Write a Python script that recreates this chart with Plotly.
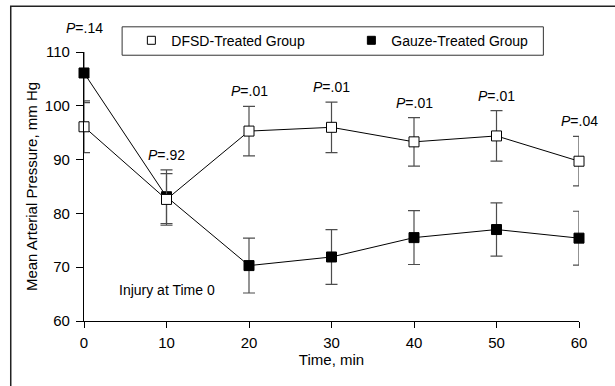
import plotly.graph_objects as go

time_min = [0, 10, 20, 30, 40, 50, 60]
dfsd_mean = [96.1, 82.6, 95.3, 96.0, 93.3, 94.4, 89.7]
dfsd_sd = [4.8, 4.8, 4.6, 4.7, 4.5, 4.7, 4.6]
gauze_mean = [106.1, 83.1, 70.3, 71.9, 75.5, 77.0, 75.4]
gauze_sd = [5.5, 5.0, 5.1, 5.1, 5.0, 4.95, 5.0]
p_labels = [".14", ".92", ".01", ".01", ".01", ".01", ".04"]
y_ticks = [60, 70, 80, 90, 100, 110]
x_ticks = [0, 10, 20, 30, 40, 50, 60]

FONT = "Liberation Sans, Arial, sans-serif"
ERR_COLOR = "#4d4d4d"
Y_MIN, Y_MAX = 60, 110

fig = go.Figure()

fig.add_trace(go.Scatter(
    x=time_min, y=gauze_mean, mode="lines+markers", showlegend=False,
    line=dict(color="black", width=1),
    marker=dict(symbol="square", size=10, color="black", line=dict(color="black", width=1)),
    error_y=dict(type="data", array=gauze_sd, visible=True, color=ERR_COLOR, thickness=1.2, width=6),
    cliponaxis=False, name="Gauze-Treated Group"))

fig.add_trace(go.Scatter(
    x=time_min, y=dfsd_mean, mode="lines+markers", showlegend=False,
    line=dict(color="black", width=1),
    marker=dict(symbol="square", size=10, color="white", line=dict(color="black", width=1)),
    error_y=dict(type="data", array=dfsd_sd, visible=True, color=ERR_COLOR, thickness=1.2, width=6),
    cliponaxis=False, name="DFSD-Treated Group"))

# legend-only traces
fig.add_trace(go.Scatter(
    x=[None], y=[None], mode="markers", name="DFSD-Treated Group",
    marker=dict(symbol="square", size=8, color="white", line=dict(color="black", width=1))))
fig.add_trace(go.Scatter(
    x=[None], y=[None], mode="markers", name="Gauze-Treated Group",
    marker=dict(symbol="square", size=8, color="black", line=dict(color="black", width=1))))

annotations = []
for t, dm, ds, gm, gs, p in zip(time_min, dfsd_mean, dfsd_sd, gauze_mean, gauze_sd, p_labels):
    top = max(dm + ds, gm + gs)
    annotations.append(dict(
        x=t, y=(top - Y_MIN) / (Y_MAX - Y_MIN), xref="x", yref="paper",
        text="<i>P</i>=" + p, showarrow=False,
        yanchor="bottom", yshift=5, font=dict(family=FONT, size=14, color="black")))

annotations.append(dict(
    x=10, y=65.75, xref="x", yref="y", text="Injury at Time 0", showarrow=False,
    font=dict(family=FONT, size=14, color="black")))

fig.update_layout(
    width=615, height=386,
    margin=dict(l=83.5, r=35.5, t=51.7, b=65, pad=0),
    paper_bgcolor="white", plot_bgcolor="white",
    font=dict(family=FONT, size=14, color="black"),
    annotations=annotations,
    showlegend=True,
    legend=dict(
        orientation="h", x=0.0957, y=1.042, xanchor="left", yanchor="middle",
        borderwidth=0, bgcolor="rgba(0,0,0,0)",
        font=dict(family=FONT, size=14, color="black"),
        entrywidth=175, itemwidth=30,
    ),
    xaxis=dict(
        range=[0, 60], tickvals=x_ticks, showgrid=False, zeroline=False,
        showline=True, linecolor="black", linewidth=1.3,
        ticks="outside", ticklen=6, tickcolor="black", tickwidth=1.3,
        ticklabelstandoff=2,
        tickfont=dict(family=FONT, size=15),
        title=dict(text="Time, min", font=dict(family=FONT, size=15), standoff=4),
    ),
    yaxis=dict(
        range=[Y_MIN, Y_MAX], tickvals=y_ticks, showgrid=False, zeroline=False,
        showline=True, linecolor="black", linewidth=1.3,
        ticks="outside", ticklen=7, tickcolor="black", tickwidth=1.3,
        ticklabelstandoff=3,
        tickfont=dict(family=FONT, size=15),
        title=dict(text="Mean Arterial Pressure, mm Hg", font=dict(family=FONT, size=15), standoff=3),
    ),
    shapes=[
        dict(type="rect", xref="paper", yref="paper",
             x0=-0.148, x1=1.12, y0=-0.3, y1=1.170,
             line=dict(color="#222222", width=1.5), fillcolor="rgba(0,0,0,0)", layer="below"),
        dict(type="rect", xref="paper", yref="paper",
             x0=0.077, x1=0.928, y0=0.988, y1=1.0936,
             line=dict(color="#333333", width=1), fillcolor="white", layer="below"),
    ],
)

fig.write_html("out.html")
